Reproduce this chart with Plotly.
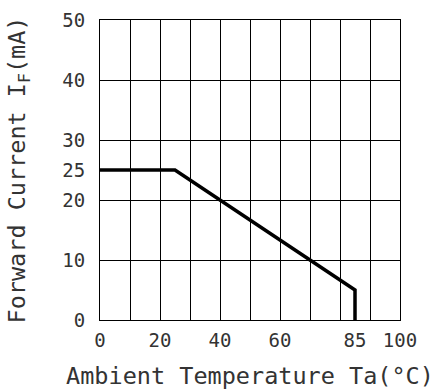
import plotly.graph_objects as go

# Data
temp_c = [0, 25, 85, 85]
current_ma = [25, 25, 5, 0]
x_tick_vals = [0, 20, 40, 60, 85, 100]
y_tick_vals = [0, 10, 20, 25, 30, 40, 50]
x_title = "Ambient Temperature Ta(°C)"
y_title = "Forward Current I<sub>F</sub>(mA)"

FONT = "DejaVu Sans Mono"
TXT = "#333333"

fig = go.Figure()
fig.add_trace(go.Scatter(
    x=temp_c, y=current_ma, mode="lines",
    line=dict(color="black", width=3.5),
    showlegend=False, hoverinfo="skip",
))

fig.update_layout(
    width=441, height=390,
    margin=dict(l=100, r=41, t=20, b=70),
    paper_bgcolor="white", plot_bgcolor="white",
    font=dict(family=FONT, color=TXT),
)
fig.update_xaxes(
    range=[0, 100], tickvals=x_tick_vals, ticks="",
    tickfont=dict(size=19, family=FONT, color=TXT),
    showgrid=False, zeroline=False, automargin=False,
    showline=True, linecolor="black", linewidth=1, mirror=True,
    minor=dict(dtick=10, tick0=0, showgrid=True, gridcolor="black", gridwidth=1),
    title=dict(text=x_title, font=dict(size=23.5, family=FONT, color=TXT), standoff=22),
    ticklabelstandoff=3,
)
fig.update_yaxes(
    range=[0, 50], tickvals=y_tick_vals, ticks="",
    tickfont=dict(size=19, family=FONT, color=TXT),
    showgrid=False, zeroline=False, automargin=False,
    showline=True, linecolor="black", linewidth=1, mirror=True,
    minor=dict(dtick=10, tick0=0, showgrid=True, gridcolor="black", gridwidth=1),
    title=dict(text=y_title, font=dict(size=23.5, family=FONT, color=TXT), standoff=30),
    ticklabelstandoff=10,
)

fig.write_html("out.html")
